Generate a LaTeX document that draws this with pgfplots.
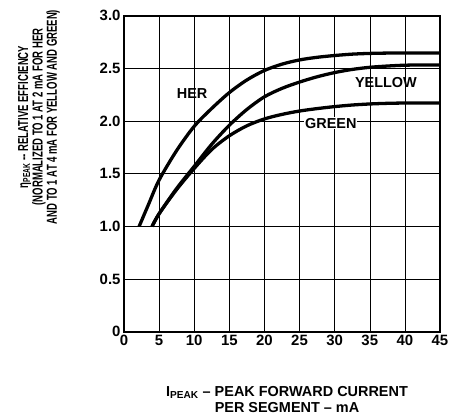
\documentclass[border=0pt]{standalone}
\usepackage{fontspec}
\setmainfont{Liberation Sans}
\newfontfamily\narrowfont[FakeStretch=0.66]{Liberation Sans}
\usepackage{pgfplots}
\pgfplotsset{compat=1.18}
\begin{document}
\begin{tikzpicture}
\path[use as bounding box] (-124bp,-86.3bp) rectangle (327bp,331.7bp);
\begin{axis}[
  at={(0,0)}, anchor=south west,
  scale only axis, width=316bp, height=316bp,
  xmin=0, xmax=45, ymin=0, ymax=3,
  xtick={0,5,10,15,20,25,30,35,40,45},
  ytick={0,0.5,1,1.5,2,2.5,3},
  xticklabels={0,5,10,15,20,25,30,35,40,45},
  yticklabels={0,0.5,1.0,1.5,2.0,2.5,3.0},
  /pgf/number format/assume math mode=true,
  tick label style={font=\fontsize{15}{15}\selectfont\bfseries},
  major tick length=0pt,
  axis line style={line width=1.8pt},
  grid=major,
  grid style={black, line width=0.5pt},
  clip=false,
]
\addplot[black, line width=3.3pt, smooth] coordinates {
  (2.16,1.0) (3.5,1.21) (5,1.44) (7.5,1.72) (10,1.95) (12.5,2.12) (15,2.27)
  (17.5,2.39) (20,2.48) (22.5,2.54) (25,2.58) (27.5,2.605) (30,2.622) (32.5,2.635)
  (35,2.642) (37.5,2.645) (40,2.645) (42.5,2.645) (45,2.645)};
\addplot[black, line width=3.3pt, smooth] coordinates {
  (4,1.0) (5,1.12) (7.5,1.36) (10,1.57) (12.5,1.78) (15,1.96) (17.5,2.11)
  (20,2.23) (22.5,2.31) (25,2.37) (27.5,2.42) (30,2.46) (32.5,2.49) (35,2.51)
  (37.5,2.522) (40,2.53) (42.5,2.532) (45,2.532)};
\addplot[black, line width=3.3pt, smooth] coordinates {
  (4,1.0) (5,1.12) (7.5,1.35) (10,1.55) (12.5,1.73) (15,1.86) (17.5,1.955)
  (20,2.02) (22.5,2.063) (25,2.095) (27.5,2.118) (30,2.137) (32.5,2.152) (35,2.162)
  (37.5,2.168) (40,2.171) (42.5,2.172) (45,2.172)};
\node[font=\fontsize{14.5}{14.5}\selectfont\bfseries] at (axis cs:9.7,2.26) {HER};
\node[font=\fontsize{14.5}{14.5}\selectfont\bfseries] at (axis cs:37.3,2.37) {YELLOW};
\node[font=\fontsize{14.5}{14.5}\selectfont\bfseries, fill=white, inner sep=1pt] at (axis cs:29.45,1.98) {GREEN};
\end{axis}
\node[rotate=90, align=center, font=\narrowfont\fontsize{14.5}{14.5}\selectfont\bfseries]
  at (-85bp,214.7bp) {η\textsubscript{PEAK} -- RELATIVE EFFICIENCY\\(NORMALIZED TO 1 AT 2 mA FOR HER\\AND TO 1 AT 4 mA FOR YELLOW AND GREEN)};
\node[align=center, font=\fontsize{14.5}{17}\selectfont\bfseries]
  at (163bp,-67.8bp) {I\textsubscript{PEAK} -- PEAK FORWARD CURRENT\\PER SEGMENT -- mA};
\end{tikzpicture}
\end{document}
